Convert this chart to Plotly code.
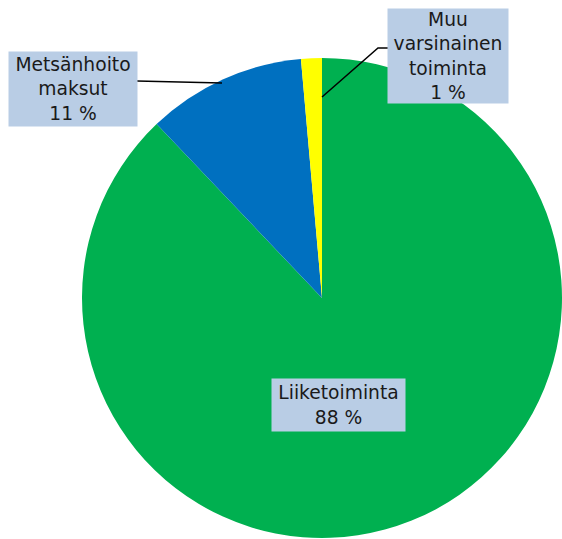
import plotly.graph_objects as go

labels = ["Liiketoiminta", "Metsänhoitomaksut", "Muu varsinainen toiminta"]
values = [87.9, 10.7, 1.4]
colors = ["#00b050", "#0070c0", "#ffff00"]
box_texts = ["Liiketoiminta<br>88 %", "Metsänhoito<br>maksut<br>11 %", "Muu<br>varsinainen<br>toiminta<br>1 %"]

W, H = 562, 539
def px(x):
    return x / W
def py(y):
    return 1 - y / H

fig = go.Figure(go.Pie(
    labels=labels, values=values, sort=False, direction="clockwise", rotation=0,
    marker=dict(colors=colors, line=dict(width=0)),
    textinfo="none", hoverinfo="label+percent",
    domain=dict(x=[px(82), px(562)], y=[py(538), py(58)]),
))

font = dict(family="DejaVu Sans, Verdana, sans-serif", size=18.7, color="#1a1a1a")
boxes = [
    (338.5, 405, 133, 52),
    (73, 89, 128, 74),
    (448, 56, 120, 94),
]
for t, (cx, cy, w, h) in zip(box_texts, boxes):
    fig.add_annotation(x=px(cx), y=py(cy), xref="paper", yref="paper", text=t,
                       showarrow=False, xanchor="center", yanchor="middle",
                       width=w, height=h, bgcolor="#b9cde5", borderpad=0,
                       font=font, align="center")

fig.add_shape(type="line", xref="paper", yref="paper", x0=px(137), y0=py(81), x1=px(222), y1=py(83),
              line=dict(color="black", width=1.5))
fig.add_shape(type="path", xref="paper", yref="paper",
              path=f"M {px(388)} {py(48)} L {px(378)} {py(48)} L {px(322)} {py(97)}",
              line=dict(color="black", width=1.5))

fig.update_layout(width=W, height=H, margin=dict(l=0, r=0, t=0, b=0), showlegend=False,
                  paper_bgcolor="white", plot_bgcolor="white")
fig.write_html("out.html", config={"displayModeBar": False},
               post_script="document.body.style.margin='0';document.body.style.overflow='hidden';")
